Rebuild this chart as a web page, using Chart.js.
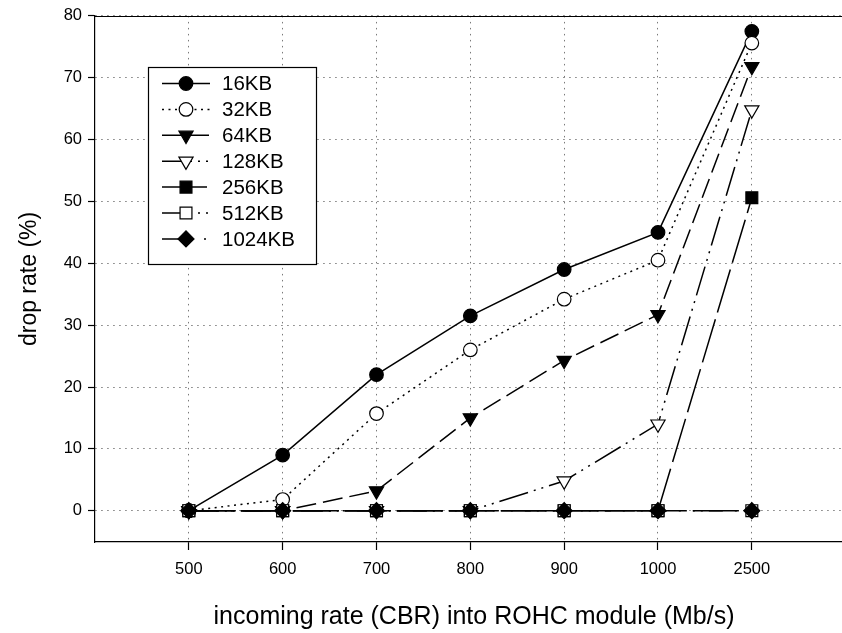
<!DOCTYPE html>
<html><head><meta charset="utf-8">
<script src="https://cdn.jsdelivr.net/npm/chart.js@4.4.0/dist/chart.umd.min.js"></script>
<style>html,body{margin:0;padding:0;background:#fff;overflow:hidden}canvas{display:block}</style>
</head><body>
<canvas id="c" width="842" height="633"></canvas>
<script>
// ---- data ----
const categories = ['500', '600', '700', '800', '900', '1000', '2500'];
const seriesLabels = ['16KB', '32KB', '64KB', '128KB', '256KB', '512KB', '1024KB'];
const kb16   = [0, 9.0, 22.0, 31.5, 39.0, 45.0, 77.5];
const kb32   = [0, 1.8, 15.7, 26.0, 34.2, 40.5, 75.6];
const kb64   = [0, 0, 3.2, 15.0, 24.3, 31.7, 71.8];
const kb128  = [0, 0, 0, 0, 4.8, 14.0, 64.8];
const kb256  = [0, 0, 0, 0, 0, 0, 50.6];
const kb512  = [0, 0, 0, 0, 0, 0, 0];
const kb1024 = [0, 0, 0, 0, 0, 0, 0];
const yTickValues = [0, 10, 20, 30, 40, 50, 60, 70, 80];
const xTitle = 'incoming rate (CBR) into ROHC module (Mb/s)';
const yTitle = 'drop rate (%)';

const seriesValues = [kb16, kb32, kb64, kb128, kb256, kb512, kb1024];

// ---- styles ----
const FONT = '"Liberation Sans", Arial, sans-serif';
const styles = [
  {ps: 'circle',   rot: 0,   r: 6.8, fill: true,  dash: []},
  {ps: 'circle',   rot: 0,   r: 6.8, fill: false, dash: [2, 4.5]},
  {ps: 'triangle', rot: 180, r: 8.2, fill: true,  dash: [20, 7]},
  {ps: 'triangle', rot: 180, r: 8.2, fill: false, dash: [30, 6, 2, 6, 2, 6]},
  {ps: 'rect',     rot: 0,   r: 8.4, fill: true,  dash: [45, 7]},
  {ps: 'rect',     rot: 0,   r: 8.4, fill: false, dash: [30, 6, 2, 6, 2, 6]},
  {ps: 'rectRot',  rot: 0,   r: 8.0, fill: true,  dash: [30, 12, 2, 12]}
];

const datasets = seriesValues.map((vals, i) => ({
  label: seriesLabels[i],
  data: vals.map((v, j) => ({x: j, y: v})),
  order: seriesValues.length - 1 - i,
  borderColor: '#000',
  borderWidth: 1.5,
  borderDash: styles[i].dash,
  pointStyle: styles[i].ps,
  pointRotation: styles[i].rot,
  pointRadius: styles[i].r,
  pointHoverRadius: styles[i].r,
  pointBackgroundColor: styles[i].fill ? '#000' : '#fff',
  pointBorderColor: '#000',
  pointBorderWidth: 1.2,
  tension: 0,
  fill: false,
  clip: false
}));

function drawMarker(ctx, st, x, y) {
  const r = st.r;
  ctx.save();
  ctx.setLineDash([]);
  ctx.lineWidth = 1.2;
  ctx.strokeStyle = '#000';
  ctx.fillStyle = st.fill ? '#000' : '#fff';
  ctx.beginPath();
  if (st.ps === 'circle') {
    ctx.arc(x, y, r, 0, Math.PI * 2);
  } else if (st.ps === 'triangle') {
    let rad = st.rot * Math.PI / 180;
    ctx.moveTo(x + Math.sin(rad) * r, y - Math.cos(rad) * r);
    rad += 2 * Math.PI / 3;
    ctx.lineTo(x + Math.sin(rad) * r, y - Math.cos(rad) * r);
    rad += 2 * Math.PI / 3;
    ctx.lineTo(x + Math.sin(rad) * r, y - Math.cos(rad) * r);
    ctx.closePath();
  } else if (st.ps === 'rect') {
    const s = Math.SQRT1_2 * r;
    ctx.rect(x - s, y - s, 2 * s, 2 * s);
  } else if (st.ps === 'rectRot') {
    ctx.moveTo(x - r, y); ctx.lineTo(x, y - r); ctx.lineTo(x + r, y); ctx.lineTo(x, y + r);
    ctx.closePath();
  }
  ctx.fill();
  ctx.stroke();
  ctx.restore();
}

const framePlugin = {
  id: 'frame',
  afterDraw(chart) {
    const ctx = chart.ctx;
    const a = chart.chartArea;
    ctx.save();
    // top frame line
    ctx.strokeStyle = '#000';
    ctx.lineWidth = 1.2;
    ctx.beginPath();
    ctx.moveTo(a.left, Math.round(a.top) + 0.5);
    ctx.lineTo(chart.width, Math.round(a.top) + 0.5);
    ctx.stroke();

    // x axis title
    ctx.fillStyle = '#000';
    ctx.font = '25px ' + FONT;
    ctx.textAlign = 'center';
    ctx.textBaseline = 'middle';
    ctx.fillText(xTitle, 474, 617);

    // legend box
    const bx = 148.5, by = 67.5, bw = 168, bh = 197;
    ctx.fillStyle = '#fff';
    ctx.fillRect(bx, by, bw, bh);
    ctx.lineWidth = 1.2;
    ctx.strokeRect(bx, by, bw, bh);
    const x0 = 162, x1 = 210, mx = 186, tx = 222;
    ctx.font = '20.5px ' + FONT;
    ctx.textBaseline = 'middle';
    ctx.textAlign = 'left';
    for (let i = 0; i < seriesLabels.length; i++) {
      const y = 83.5 + i * 25.9;
      ctx.save();
      ctx.setLineDash(styles[i].dash);
      ctx.lineWidth = 1.5;
      ctx.strokeStyle = '#000';
      ctx.beginPath();
      ctx.moveTo(x0, y);
      ctx.lineTo(x1, y);
      ctx.stroke();
      ctx.restore();
      drawMarker(ctx, styles[i], mx, y);
      ctx.fillStyle = '#000';
      ctx.fillText(seriesLabels[i], tx, y + 1);
    }
    ctx.restore();
  }
};

new Chart(document.getElementById('c'), {
  type: 'line',
  data: {datasets},
  options: {
    responsive: false,
    animation: false,
    devicePixelRatio: 1,
    layout: {autoPadding: false, padding: {top: 15, left: 0, right: 0, bottom: 0}},
    plugins: {legend: {display: false}, tooltip: {enabled: false}},
    events: [],
    scales: {
      x: {
        type: 'linear',
        min: -1,
        max: 6.961,
        afterBuildTicks: s => { s.ticks = categories.map((c, i) => ({value: i})); },
        afterFit: s => { s.height = 91; s.paddingLeft = 0; s.paddingRight = 0; },
        ticks: {
          callback: v => categories[v],
          autoSkip: false, maxRotation: 0, minRotation: 0,
          color: '#000', padding: 10,
          font: {family: FONT, size: 16.5}
        },
        grid: {color: '#7a7a7a', lineWidth: 1, tickLength: 8, tickColor: '#000', tickWidth: 1.2},
        border: {display: true, color: '#000', width: 1.2, dash: [1.5, 4.5]},
        title: {display: false}
      },
      y: {
        type: 'linear',
        min: -5.06,
        max: 80,
        afterBuildTicks: s => { s.ticks = yTickValues.map(v => ({value: v})); },
        afterFit: s => { s.width = 95; },
        ticks: {color: '#000', padding: 6, font: {family: FONT, size: 16.5}},
        grid: {color: '#7a7a7a', lineWidth: 1, tickLength: 7, tickColor: '#000', tickWidth: 1.2},
        border: {display: true, color: '#000', width: 1.2, dash: [1.5, 4.5]},
        title: {display: true, text: yTitle, color: '#000', font: {family: FONT, size: 23}, padding: {top: 16, bottom: 0}}
      }
    }
  },
  plugins: [framePlugin]
});
</script>
</body></html>
